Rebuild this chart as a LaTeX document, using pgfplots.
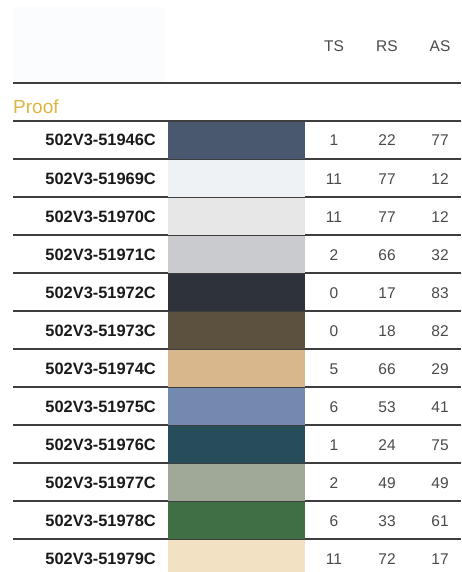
\documentclass[border=0pt]{standalone}
\usepackage{pgfplots}
\usepackage{pgfplotstable}
\pgfplotsset{compat=1.18}
\usepackage{fontspec}
\setmainfont{Liberation Sans}

\definecolor{linec}{HTML}{3E3E3E}
\definecolor{panel}{HTML}{FBFCFD}
\definecolor{gold}{HTML}{DDB63F}
\definecolor{labc}{HTML}{1A1A1A}
\definecolor{numc}{HTML}{4A4A4A}
\definecolor{cA}{HTML}{4A586F}
\definecolor{cB}{HTML}{EEF2F4}
\definecolor{cC}{HTML}{E6E7E6}
\definecolor{cD}{HTML}{C9CBCE}
\definecolor{cE}{HTML}{2D323B}
\definecolor{cF}{HTML}{5C513F}
\definecolor{cG}{HTML}{D8B78D}
\definecolor{cH}{HTML}{7389B0}
\definecolor{cI}{HTML}{274D5A}
\definecolor{cJ}{HTML}{A0A898}
\definecolor{cK}{HTML}{416F45}
\definecolor{cL}{HTML}{F2E2C3}

\pgfplotstableread{
y name ts rs as
146 502V3-51946C 1 22 77
184 502V3-51969C 11 77 12
222 502V3-51970C 11 77 12
260 502V3-51971C 2 66 32
298 502V3-51972C 0 17 83
336 502V3-51973C 0 18 82
374 502V3-51974C 5 66 29
412 502V3-51975C 6 53 41
450 502V3-51976C 1 24 75
488 502V3-51977C 2 49 49
526 502V3-51978C 6 33 61
564 502V3-51979C 11 72 17
}\rows

\pgfplotstableread{
x y name
334 52 TS
387 52 RS
440 52 AS
}\heads

\begin{document}
\begin{tikzpicture}
\begin{axis}[
  width=461pt, height=572pt, scale only axis,
  xmin=0, xmax=461, ymin=0, ymax=572, y dir=reverse,
  hide axis, clip=false,
  numtext/.style={only marks, mark=none, point meta=explicit symbolic,
    nodes near coords, nodes near coords align={anchor=base},
    every node near coord/.append style={inner sep=0pt, text=numc, font=\fontsize{15.5}{16}\selectfont}},
]
% background
\addplot[fill=white, draw=none] coordinates {(0,0) (461,0) (461,572) (0,572)} --cycle;
\addplot[fill=panel, draw=none] coordinates {(13,7) (165,7) (165,83) (13,83)} --cycle;
% rules
\addplot[linec, line width=1.2pt] coordinates {(13,83) (461,83)};
\addplot[linec, line width=1.2pt] coordinates {(13,121) (461,121)};
\addplot[linec, line width=1.2pt] coordinates {(13,159) (461,159)};
\addplot[linec, line width=1.2pt] coordinates {(13,197) (461,197)};
\addplot[linec, line width=1.2pt] coordinates {(13,235) (461,235)};
\addplot[linec, line width=1.2pt] coordinates {(13,273) (461,273)};
\addplot[linec, line width=1.2pt] coordinates {(13,311) (461,311)};
\addplot[linec, line width=1.2pt] coordinates {(13,349) (461,349)};
\addplot[linec, line width=1.2pt] coordinates {(13,387) (461,387)};
\addplot[linec, line width=1.2pt] coordinates {(13,425) (461,425)};
\addplot[linec, line width=1.2pt] coordinates {(13,463) (461,463)};
\addplot[linec, line width=1.2pt] coordinates {(13,501) (461,501)};
\addplot[linec, line width=1.2pt] coordinates {(13,539) (461,539)};
% swatches
\addplot[fill=cA, draw=none] coordinates {(168,122) (305,122) (305,159) (168,159)} --cycle;
\addplot[fill=cB, draw=none] coordinates {(168,160) (305,160) (305,197) (168,197)} --cycle;
\addplot[fill=cC, draw=none] coordinates {(168,198) (305,198) (305,235) (168,235)} --cycle;
\addplot[fill=cD, draw=none] coordinates {(168,236) (305,236) (305,273) (168,273)} --cycle;
\addplot[fill=cE, draw=none] coordinates {(168,274) (305,274) (305,311) (168,311)} --cycle;
\addplot[fill=cF, draw=none] coordinates {(168,312) (305,312) (305,349) (168,349)} --cycle;
\addplot[fill=cG, draw=none] coordinates {(168,350) (305,350) (305,387) (168,387)} --cycle;
\addplot[fill=cH, draw=none] coordinates {(168,388) (305,388) (305,425) (168,425)} --cycle;
\addplot[fill=cI, draw=none] coordinates {(168,426) (305,426) (305,463) (168,463)} --cycle;
\addplot[fill=cJ, draw=none] coordinates {(168,464) (305,464) (305,501) (168,501)} --cycle;
\addplot[fill=cK, draw=none] coordinates {(168,502) (305,502) (305,539) (168,539)} --cycle;
\addplot[fill=cL, draw=none] coordinates {(168,540) (305,540) (305,572) (168,572)} --cycle;
% header
\addplot[numtext] table[x=x, y=y, meta=name] {\heads};
\addplot[only marks, mark=none, point meta=explicit symbolic, nodes near coords,
  nodes near coords align={anchor=base west},
  every node near coord/.append style={inner sep=0pt, text=gold, font=\fontsize{19}{20}\selectfont}]
  coordinates {(13,114) [Proof]};
% labels
\addplot[only marks, mark=none, point meta=explicit symbolic, nodes near coords,
  nodes near coords align={anchor=base east},
  every node near coord/.append style={inner sep=0pt, text=labc, font=\bfseries\fontsize{16.4}{17}\selectfont}]
  table[x expr=156, y=y, meta=name] {\rows};
% values
\addplot[numtext] table[x expr=334, y=y, meta=ts] {\rows};
\addplot[numtext] table[x expr=387, y=y, meta=rs] {\rows};
\addplot[numtext] table[x expr=440, y=y, meta=as] {\rows};
\end{axis}
\end{tikzpicture}
\end{document}
